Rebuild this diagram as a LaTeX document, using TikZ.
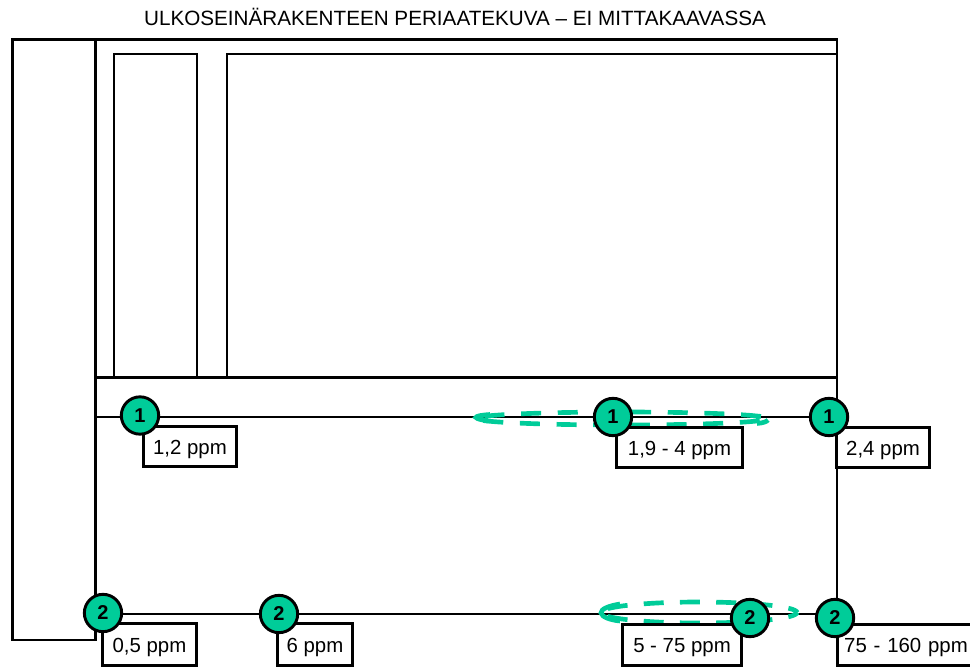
\documentclass[tikz,border=0pt]{standalone}
\usepackage{fontspec}
\setmainfont{Liberation Sans}
\definecolor{mint}{HTML}{00CC99}
\tikzset{
  wall/.style={draw=black,line width=1.6pt,line cap=rect},
  thick wall/.style={draw=black,line width=2.2pt,line cap=rect},
  thin wall/.style={draw=black,line width=1.25pt,line cap=rect},
  ppmbox/.style={draw=black,fill=white,line width=1.9pt,inner sep=0pt,text height=11.4pt,text depth=0pt,font=\fontsize{15.3}{18}\selectfont},
  marker/.style={circle,draw=black,fill=mint,line width=2.2pt,minimum size=28pt,inner sep=0pt,font=\fontsize{15}{16}\selectfont\bfseries},
  spread/.style={draw=mint,line width=3.5pt},
}
\newcommand{\pbox}[6]{\node[ppmbox,minimum width=#4*0.75pt-#3*0.75pt-1pt,minimum height=#6*0.75pt-#5*0.75pt-1pt] (#1) at ({(#3+#4)/2},{(#5+#6)/2}) {#2};}
\begin{document}
\begin{tikzpicture}[x=0.75pt,y=-0.75pt]
\useasboundingbox (0,0) rectangle (970,667);
\node[font=\fontsize{15.5}{18}\selectfont,inner sep=0pt] (title) at (455,17) {ULKOSEINÄRAKENTEEN PERIAATEKUVA – EI MITTAKAAVASSA};
% building outline
\draw[wall] (95.5,39.5) -- (12.5,39.5) -- (12.5,640) -- (95.5,640);
\draw[thick wall] (95.5,39.5) -- (95.5,640);
\draw[wall] (95.5,39.5) -- (837,39.5) -- (837,614);
\draw[thin wall] (114,54) rectangle (197,377);
\draw[thin wall] (227,54) rectangle (837,377);
\draw[wall] (95.5,377.5) -- (837,377.5);
\draw[thin wall] (95.5,417) -- (837,417);
\draw[thin wall] (95.5,614) -- (837,614);
% spreading ellipses
\draw[spread,dash pattern=on 15pt off 12.5pt,dash phase=21pt] (622,418.5) ellipse [x radius=146,y radius=6.5];
\draw[spread,dash pattern=on 15pt off 12.2pt,dash phase=7.5pt] (699,612.5) ellipse [x radius=98,y radius=10.5];
% dash ends wrapping the ellipse tips
\draw[spread] (757,423.5) .. controls (763,423) and (767,421.5) .. (768,420);
\draw[spread] (490,414.5) .. controls (482,415) and (476,416) .. (476,417.5) .. controls (477,419) and (482,420) .. (488,421);
\draw[spread] (620,604) .. controls (608,606) and (601,609) .. (601,613) .. controls (602,617) and (610,620) .. (620,621);
% value boxes
\pbox{a}{1,2 ppm}{143}{237}{426}{467}
\pbox{b}{1,9 - 4 ppm}{616}{743}{427}{468}
\pbox{c}{2,4 ppm}{836}{930}{427}{468}
\pbox{d}{0,5 ppm}{102}{197}{623}{666}
\pbox{e}{6 ppm}{277}{353}{623}{666}
\pbox{f}{5 - 75 ppm}{622}{742}{624}{666}
\node[ppmbox,minimum width=104pt,minimum height=31pt,anchor=west,text width=100pt,align=left] (g) at (836,645) {\hspace{3.2pt}75 - 160 ppm};
% markers
\node[marker] (m1) at (140,415.5) {1};
\node[marker] (m2) at (613,417) {1};
\node[marker] (m3) at (829,417) {1};
\node[marker] (m4) at (103,613) {2};
\node[marker] (m5) at (279,614) {2};
\node[marker] (m6) at (750,618) {2};
\node[marker] (m7) at (835,618) {2};
\end{tikzpicture}
\end{document}
